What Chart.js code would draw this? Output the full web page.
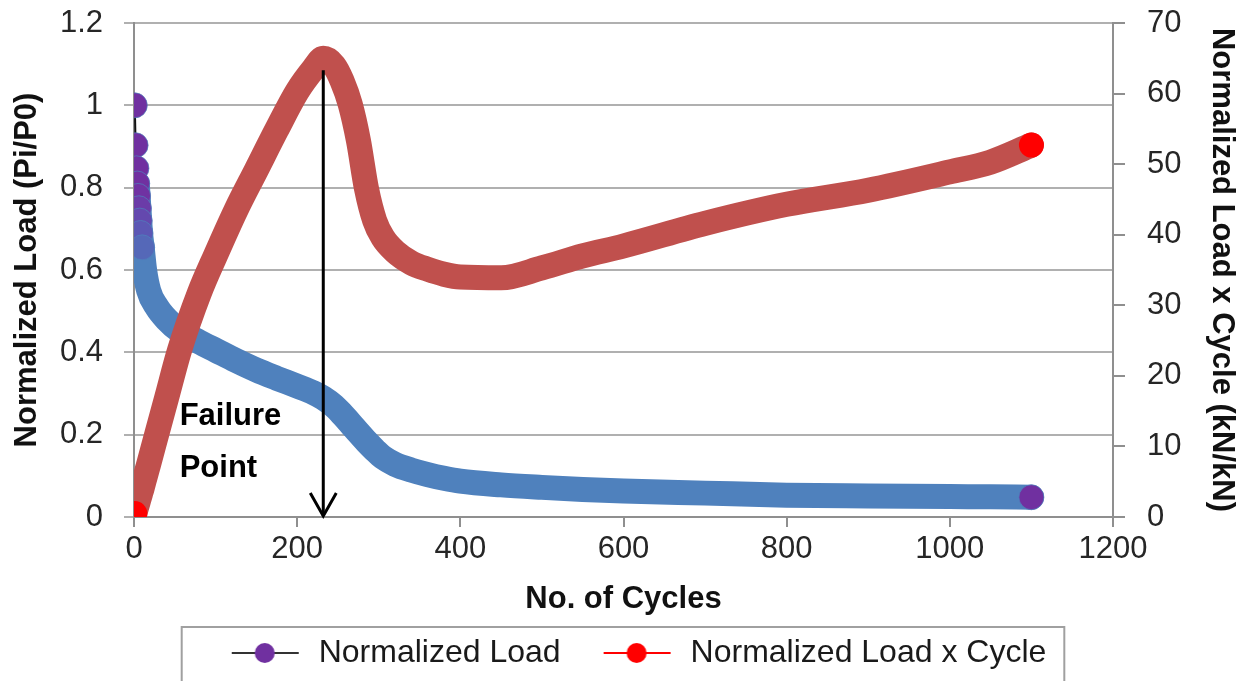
<!DOCTYPE html>
<html>
<head>
<meta charset="utf-8">
<script src="https://cdn.jsdelivr.net/npm/chart.js@4.4.1/dist/chart.umd.min.js"></script>
<style>
  html, body { margin: 0; padding: 0; background: #fff; }
</style>
</head>
<body>
<canvas id="fatigueChart" width="1245" height="681"></canvas>
<script>
const cycles = [1, 2, 3, 4, 5, 6, 7, 8, 10, 13, 18, 28, 40, 56, 80, 100, 125, 150, 175, 200,
  220, 232, 245, 255, 265, 275, 285, 295, 305, 320, 340, 360, 380, 400, 450, 500, 550, 600,
  700, 800, 900, 1000, 1050, 1100];

// Normalized Load (Pi/P0), left axis
const normLoad = [1.0, 0.903, 0.847, 0.81, 0.78, 0.75, 0.72, 0.69, 0.655, 0.6, 0.55, 0.51, 0.48,
  0.452, 0.425, 0.405, 0.38, 0.357, 0.337, 0.318, 0.302, 0.289, 0.27, 0.25, 0.228, 0.205, 0.183,
  0.163, 0.145, 0.128, 0.114, 0.103, 0.094, 0.087, 0.078, 0.072, 0.067, 0.063, 0.058, 0.053,
  0.051, 0.0495, 0.049, 0.048];

// Normalized Load x Cycle (kN/kN), right axis
const loadTimesCycle = [0.5, 0.9, 1.3, 1.7, 2.1, 2.5, 2.9, 3.3, 4.1, 5.4, 7.5, 11.8, 16.9, 23.7,
  31.7, 37.1, 43.5, 49.2, 54.9, 60.3, 63.5, 65.0, 64.0, 61.8, 58.5, 53.4, 46.5, 42.0, 39.6, 37.6,
  36.0, 35.1, 34.4, 34.0, 33.9, 35.3, 37.0, 38.4, 41.6, 44.3, 46.3, 48.9, 50.3, 52.7];

const xTicks = [0, 200, 400, 600, 800, 1000, 1200];
const leftTicks = [0, 0.2, 0.4, 0.6, 0.8, 1, 1.2];
const leftTickLabels = ['0', '0.2', '0.4', '0.6', '0.8', '1', '1.2'];
const rightTicks = [0, 10, 20, 30, 40, 50, 60, 70];

// failure point note (data units)
const arrowCycle = 232;
const arrowTop = 1.085;
const noteCycle = 56;
const noteLines = ['Failure', 'Point'];
const noteLevels = [0.223, 0.097];

const FONT = "'Liberation Sans', Arial, sans-serif";
const blueMarkerFills = ['#7030A0', '#7030A0', '#7030A0', '#7030A0', '#7032A2', '#6B3CA8', '#6448AE', '#5C57B4', '#5568B8'];

// legend symbol: line with a dot, like the spreadsheet legend
function legendSymbol(lineColor, dotColor) {
  const c = document.createElement('canvas');
  c.width = 104;
  c.height = 26;
  const g = c.getContext('2d');
  g.strokeStyle = lineColor;
  g.lineWidth = 2;
  g.beginPath();
  g.moveTo(33, 13);
  g.lineTo(100, 13);
  g.stroke();
  g.fillStyle = dotColor;
  g.beginPath();
  g.arc(66, 13, 10, 0, Math.PI * 2);
  g.fill();
  return c;
}
const legendSymbols = [legendSymbol('#333333', '#7030A0'), legendSymbol('#FF0000', '#FF0000')];

const fixedLegend = {
  id: 'fixedLegend',
  beforeLayout(chart) {
    const lg = chart.legend;
    if (lg && !lg._fixed) {
      const fit = lg.fit;
      lg.fit = function () {
        fit.call(this);
        this.height = 54;
      };
      lg._fixed = true;
    }
  },
  afterDraw(chart) {
    const lg = chart.legend;
    const hb = lg.legendHitBoxes;
    if (!hb || hb.length < 2) return;
    const left = hb[0].left - 17;
    const right = hb[1].left + hb[1].width + 18;
    const ctx = chart.ctx;
    ctx.save();
    ctx.strokeStyle = '#a0a0a0';
    ctx.lineWidth = 2;
    ctx.strokeRect(left, lg.top, right - left, chart.height - lg.top + 10);
    ctx.restore();
  }
};

const failureNote = {
  id: 'failureNote',
  afterDatasetsDraw(chart) {
    const { ctx, scales: { x, y } } = chart;
    const px = x.getPixelForValue(arrowCycle);
    const top = y.getPixelForValue(arrowTop);
    const bot = y.getPixelForValue(0);
    ctx.save();
    ctx.strokeStyle = '#000';
    ctx.lineWidth = 3;
    ctx.beginPath();
    ctx.moveTo(px, top);
    ctx.lineTo(px, bot - 1);
    ctx.stroke();
    ctx.beginPath();
    ctx.moveTo(px - 13, bot - 24);
    ctx.lineTo(px, bot - 1);
    ctx.lineTo(px + 13, bot - 24);
    ctx.stroke();
    ctx.fillStyle = '#000';
    ctx.font = 'bold 31px ' + FONT;
    ctx.textBaseline = 'alphabetic';
    noteLines.forEach((t, i) => {
      ctx.fillText(t, x.getPixelForValue(noteCycle), y.getPixelForValue(noteLevels[i]));
    });
    ctx.restore();
  }
};

const tickFont = { family: FONT, size: 31 };
const titleFont = { family: FONT, size: 31, weight: 'bold' };
const last = cycles.length - 1;

new Chart(document.getElementById('fatigueChart'), {
  type: 'line',
  data: {
    datasets: [{
      label: 'Normalized Load',
      data: cycles.map((c, i) => ({ x: c, y: normLoad[i] })),
      yAxisID: 'y',
      order: 1,
      borderColor: '#4F81BD',
      borderWidth: 25,
      borderCapStyle: 'round',
      borderJoinStyle: 'round',
      cubicInterpolationMode: 'monotone',
      segment: {
        borderColor: ctx => ctx.p0DataIndex < 3 ? '#111111' : undefined,
        borderWidth: ctx => ctx.p0DataIndex < 3 ? 2 : undefined
      },
      pointRadius: ctx => (ctx.dataIndex < blueMarkerFills.length || ctx.dataIndex === last) ? 12.5 : 0,
      pointBackgroundColor: ctx => ctx.dataIndex < blueMarkerFills.length ? blueMarkerFills[ctx.dataIndex] : '#7030A0',
      pointBorderColor: 'rgba(79,129,189,0.7)',
      pointBorderWidth: 1,
      fill: false
    }, {
      label: 'Normalized Load x Cycle',
      data: cycles.map((c, i) => ({ x: c, y: loadTimesCycle[i] })),
      yAxisID: 'y2',
      order: 0,
      borderColor: '#C0504D',
      borderWidth: 25,
      borderCapStyle: 'round',
      borderJoinStyle: 'round',
      cubicInterpolationMode: 'monotone',
      pointRadius: ctx => (ctx.dataIndex === 0 || ctx.dataIndex === last) ? 12.5 : 0,
      pointBackgroundColor: '#FF0000',
      pointBorderColor: '#FF0000',
      pointBorderWidth: 0,
      fill: false
    }]
  },
  options: {
    responsive: false,
    devicePixelRatio: 1,
    animation: false,
    layout: { padding: { top: 23, left: 0, right: 0, bottom: 0 } },
    scales: {
      x: {
        type: 'linear',
        min: 0,
        max: 1200,
        afterBuildTicks: s => { s.ticks = xTicks.map(v => ({ value: v })); },
        afterFit: s => { s.height = 110; s.paddingLeft = 0; s.paddingRight = 0; },
        grid: { drawOnChartArea: false, tickLength: 10, color: '#8f8f8f', lineWidth: 2 },
        border: { color: '#8f8f8f', width: 2 },
        ticks: { font: tickFont, color: '#262626', padding: 4, maxRotation: 0, callback: v => String(v) },
        title: { display: true, text: 'No. of Cycles', font: titleFont, color: '#111', padding: { top: 0, bottom: 9 } }
      },
      y: {
        position: 'left',
        min: 0,
        max: 1.2,
        afterBuildTicks: s => { s.ticks = leftTicks.map(v => ({ value: v })); },
        afterFit: s => { s.width = 134; s.paddingTop = 0; s.paddingBottom = 0; },
        grid: { color: '#b0b0b0', lineWidth: 2, tickLength: 10 },
        border: { color: '#8f8f8f', width: 2 },
        ticks: { font: tickFont, color: '#262626', padding: 21, callback: (v, i) => leftTickLabels[i] },
        title: { display: true, text: 'Normalized Load (Pi/P0)', font: titleFont, color: '#111', padding: { top: 9, bottom: 0 } }
      },
      y2: {
        position: 'right',
        min: 0,
        max: 70,
        afterBuildTicks: s => { s.ticks = rightTicks.map(v => ({ value: v })); },
        afterFit: s => { s.width = 132; s.paddingTop = 0; s.paddingBottom = 0; },
        grid: { drawOnChartArea: false, tickLength: 12, color: '#8f8f8f', lineWidth: 2 },
        border: { color: '#8f8f8f', width: 2 },
        ticks: { font: tickFont, color: '#262626', padding: 22 },
        title: { display: true, text: 'Normalized Load x Cycle (kN/kN)', font: titleFont, color: '#111', padding: { top: 5, bottom: 0 } }
      }
    },
    plugins: {
      tooltip: { enabled: false },
      legend: {
        position: 'bottom',
        labels: {
          usePointStyle: true,
          pointStyleWidth: 104,
          padding: 10,
          color: '#1a1a1a',
          font: { family: FONT, size: 32 },
          sort: (a, b) => a.datasetIndex - b.datasetIndex,
          generateLabels: chart => Chart.defaults.plugins.legend.labels.generateLabels(chart)
            .map(item => Object.assign(item, { pointStyle: legendSymbols[item.datasetIndex] }))
        }
      }
    }
  },
  plugins: [fixedLegend, failureNote]
});
</script>
</body>
</html>
